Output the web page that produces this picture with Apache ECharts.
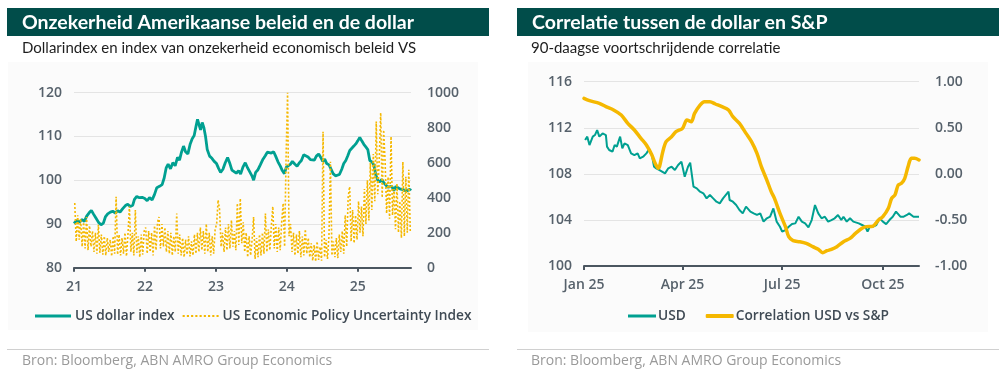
<!DOCTYPE html>
<html><head><meta charset="utf-8">
<script src="https://cdn.jsdelivr.net/npm/echarts@6/dist/echarts.min.js"></script>
<style>html,body{margin:0;padding:0;background:#fff}#c{width:1004px;height:380px}</style>
</head><body><div id="c"></div>
<script>
// ---------- Left chart data ----------
const leftTickYears = [2021, 2022, 2023, 2024, 2025];
const leftTickLabels = ['21', '22', '23', '24', '25'];

const dxyDates = [2021.000,2021.038,2021.075,2021.113,2021.146,2021.179,2021.216,2021.245,2021.273,2021.311,2021.348,2021.381,2021.414,2021.442,2021.475,2021.513,2021.546,2021.584,2021.616,2021.649,2021.687,2021.725,2021.758,2021.791,2021.828,2021.852,2021.885,2021.922,2021.960,2021.998,
2022.031,2022.064,2022.101,2022.134,2022.167,2022.205,2022.242,2022.271,2022.299,2022.327,2022.360,2022.393,2022.426,2022.459,2022.487,2022.515,2022.544,2022.572,2022.605,2022.638,2022.666,2022.694,2022.722,2022.741,2022.760,2022.784,2022.807,2022.831,2022.854,2022.878,2022.911,2022.944,2022.976,
2023.009,2023.038,2023.066,2023.099,2023.132,2023.165,2023.193,2023.226,2023.254,2023.287,2023.320,2023.348,2023.381,2023.414,2023.447,2023.475,2023.508,2023.532,2023.560,2023.593,2023.626,2023.664,2023.696,2023.725,2023.753,2023.781,2023.814,2023.842,2023.875,2023.908,2023.936,2023.965,2023.993,
2024.021,2024.049,2024.078,2024.111,2024.144,2024.172,2024.205,2024.238,2024.266,2024.299,2024.332,2024.360,2024.388,2024.416,2024.449,2024.478,2024.506,2024.534,2024.562,2024.595,2024.624,2024.652,2024.685,2024.713,2024.741,2024.774,2024.802,2024.831,2024.859,2024.887,2024.915,2024.944,2024.972,
2025.000,2025.028,2025.056,2025.085,2025.113,2025.141,2025.169,2025.198,2025.226,2025.254,2025.282,2025.311,2025.339,2025.367,2025.395,2025.424,2025.452,2025.480,2025.508,2025.537,2025.565,2025.593,2025.621,2025.649,2025.678,2025.706,2025.734,2025.748];
const dxyValues = [90.1,90.8,90.4,91.0,90.6,91.8,92.6,93.1,92.3,91.3,90.3,89.8,90.2,91.6,92.3,92.7,92.9,92.5,93.0,92.7,93.5,94.2,94.5,94.0,94.3,95.6,96.3,96.0,96.1,95.8,
95.3,96.0,95.5,96.7,98.3,98.6,99.0,100.5,102.8,103.7,102.6,104.0,103.3,105.2,104.6,106.4,107.8,106.5,106.0,108.3,109.5,110.2,112.5,113.9,112.8,111.5,113.2,112.0,110.0,107.0,105.5,105.0,104.3,
103.8,102.7,101.8,102.5,104.0,105.2,104.0,102.3,102.0,101.6,102.2,101.4,103.0,104.0,102.8,102.5,101.0,100.0,101.8,102.4,103.5,104.8,105.6,106.4,106.8,106.2,106.5,105.5,104.2,103.2,102.2,101.5,103.0,
102.6,103.6,104.3,103.7,103.2,103.9,104.5,105.8,106.0,105.3,104.7,105.0,104.6,105.5,106.0,105.2,104.3,104.8,103.8,103.5,102.5,101.5,101.0,100.8,101.3,102.5,103.8,104.5,105.6,106.8,106.5,107.8,108.3,
109.0,109.8,109.0,108.2,107.6,107.0,104.5,104.2,103.5,101.2,100.0,99.6,100.2,99.4,99.0,98.4,98.2,98.6,97.6,98.6,99.0,98.0,98.4,97.8,97.5,97.3,97.9,97.6];

// Economic Policy Uncertainty index, 4 readings per month
const epu2021 = [370,150,300,160, 280,120,260,110, 290,100,240,120, 210,90,200,80, 245,85,190,75, 180,70,170,90,
                 160,65,180,80, 405,75,190,70, 170,80,200,65, 190,350,90,200, 70,330,85,180, 60,190,75,210];
const epu2022 = [230,80,210,90, 200,70,240,100, 260,290,110,250, 120,230,90,210, 80,200,70,180, 90,310,80,190,
                 70,170,60,160, 75,180,65,150, 70,190,80,200, 90,230,100,210, 80,250,90,200, 70,180,80,220];
const epu2023 = [250,387,330,120, 200,90,230,100, 250,110,272,120, 210,100,368,130, 396,140,260,90, 200,60,180,70,
                 160,290,50,170, 60,190,70,200, 80,310,90,220, 100,240,350,110, 250,90,230,100, 260,368,120,640];
const epu2024 = [1000,180,250,90, 200,70,190,80, 210,60,180,70, 220,80,170,60, 140,40,130,35, 150,45,120,40,
                 777,60,160,50, 180,605,70,150, 60,170,55,190, 90,210,80,300, 120,405,463,150, 330,140,300,160];
const epu2025 = [380,200,350,180, 450,250,500,270, 600,330,650,380, 835,420,620,885, 400,787,600,310, 520,280,750,300,
                 450,220,480,200, 380,170,605,180, 520,200,560,210];
const epuYears = [2021, 2022, 2023, 2024, 2025];
const epuByYear = [epu2021, epu2022, epu2023, epu2024, epu2025];

// ---------- Right chart data (x = days since 1 Jan 2025) ----------
const rightTickDays = [0, 90, 181, 273];
const rightTickLabels = ['Jan 25', 'Apr 25', 'Jul 25', 'Oct 25'];

const usdDays = [1,3,5,8,10,12,14,17,20,21,23,26,28,30,33,35,37,40,43,46,49,51,54,57,59,62,64,66,69,74,77,80,83,86,89,92,95,97,100,103,106,109,112,115,118,121,124,127,132,133,136,139,142,145,148,152,155,158,161,164,167,170,173,176,179,181,184,187,190,193,196,199,202,205,208,211,214,217,220,223,226,229,232,235,237,240,243,246,251,254,257,259,261,264,267,270,273,276,279,282,285,286,289,292,295,297,301,306];
const usdValues = [110.94,111.23,110.50,111.23,111.37,111.80,111.23,111.51,111.37,110.36,110.07,109.92,110.50,110.36,111.23,110.21,110.65,110.50,109.78,109.63,109.78,109.34,109.49,109.78,110.07,109.63,108.62,108.48,108.33,108.04,108.48,108.62,108.33,108.77,109.06,107.75,108.62,108.97,106.89,106.74,106.45,106.31,105.87,106.16,105.87,105.58,105.44,105.87,106.45,105.73,105.58,105.29,104.86,104.57,105.15,104.72,104.57,104.43,104.57,103.85,104.14,104.28,105.00,103.85,103.41,102.98,103.12,103.41,103.64,103.70,104.28,103.85,103.70,103.36,103.99,105.29,104.57,104.14,104.28,103.85,103.99,104.14,104.43,103.99,104.28,103.85,104.14,103.85,103.70,103.56,103.41,102.98,103.41,103.41,103.56,104.14,103.85,103.64,103.99,104.28,104.72,104.86,104.28,104.28,104.43,104.57,104.28,104.28];

const corrDays = [0,5,14,20,27,34,40,46,52,57,62,65,68,69,72,75,80,84,90,94,98,101,106,110,115,120,126,132,136,142,148,153,158,162,167,171,174,179,184,187,191,197,203,209,214,218,222,226,231,237,243,248,254,258,264,269,273,278,281,284,287,290,293,296,299,302,306];
const corrValues = [0.819,0.794,0.765,0.729,0.693,0.638,0.548,0.476,0.385,0.313,0.204,0.114,0.060,0.078,0.241,0.349,0.403,0.458,0.494,0.584,0.566,0.656,0.747,0.783,0.783,0.758,0.729,0.693,0.620,0.548,0.439,0.349,0.222,0.078,-0.067,-0.193,-0.266,-0.429,-0.573,-0.682,-0.725,-0.736,-0.754,-0.790,-0.819,-0.855,-0.834,-0.819,-0.790,-0.736,-0.700,-0.646,-0.591,-0.573,-0.566,-0.501,-0.465,-0.374,-0.266,-0.230,-0.121,-0.103,-0.049,0.078,0.168,0.168,0.150];

// ---------- Build ----------
const TEAL = '#00a091', GOLD = '#f5b800', AXIS = '#4b5660', LBL = '#56616b';
const FONT = '"Open Sans", "Noto Sans", sans-serif';

const dxyData = dxyDates.map((d, i) => [d, dxyValues[i]]);
const epuData = [];
epuByYear.forEach((arr, k) => arr.forEach((v, i) => epuData.push([epuYears[k] + (i + 0.5) / 48, v])));
const usdData = usdDays.map((d, i) => [d, usdValues[i]]);
const corrData = corrDays.map((d, i) => [d, corrValues[i]]);

const labelStyle = { color: LBL, fontFamily: FONT, fontWeight: 600, fontSize: 14 };

function xAxisCfg(grid, min, max, ticks, labels) {
  return {
    gridIndex: grid, type: 'value', min: min, max: max,
    axisLine: { show: true, onZero: false, lineStyle: { color: AXIS, width: 2 } },
    axisTick: { show: true, customValues: ticks, length: 4, lineStyle: { color: AXIS, width: 2 } },
    axisLabel: Object.assign({ customValues: ticks, margin: 12,
      formatter: v => { const i = ticks.findIndex(t => Math.abs(t - v) < 1e-6); return i >= 0 ? labels[i] : ''; } }, labelStyle),
    splitLine: { show: false }
  };
}
function yAxisCfg(grid, pos, min, max, interval, split, fmt) {
  return {
    gridIndex: grid, type: 'value', position: pos, min: min, max: max, interval: interval,
    axisLine: { show: false }, axisTick: { show: false },
    axisLabel: Object.assign({ margin: pos === 'left' ? 12 : 16, formatter: fmt || (v => String(v)) }, labelStyle),
    splitLine: { show: split, lineStyle: { color: '#e4e4e4', width: 1 } }
  };
}

// legend icons (dotted bar for the EPU series)
let dotPath = 'path://';
for (let x = 0; x < 36; x += 4) dotPath += 'M' + x + ',0h2v2h-2z';
const legendText = { color: '#3f4a54', fontFamily: FONT, fontWeight: 600, fontSize: 13.7 };

const chart = echarts.init(document.getElementById('c'), null, { renderer: 'canvas' });
chart.setOption({
  animation: false,
  backgroundColor: '#ffffff',
  graphic: [
    { type: 'rect', shape: { x: 8, y: 62, width: 470, height: 268 }, style: { fill: '#fbfbfb' }, z: -10 },
    { type: 'rect', shape: { x: 528, y: 62, width: 460, height: 270 }, style: { fill: '#fbfbfb' }, z: -10 },
    { type: 'rect', shape: { x: 7, y: 8, width: 482, height: 28 }, style: { fill: '#014d4a' } },
    { type: 'rect', shape: { x: 517, y: 8, width: 482, height: 28 }, style: { fill: '#014d4a' } },
    { type: 'text', x: 22, y: 22.5, style: { text: 'Onzekerheid Amerikaanse beleid en de dollar', fill: '#ffffff', font: 'bold 19.5px Lato, "Open Sans", sans-serif', textVerticalAlign: 'middle' } },
    { type: 'text', x: 532, y: 22.5, style: { text: 'Correlatie tussen de dollar en S&P', fill: '#ffffff', font: 'bold 19.5px Lato, "Open Sans", sans-serif', textVerticalAlign: 'middle' } },
    { type: 'text', x: 22, y: 48, style: { text: 'Dollarindex en index van onzekerheid economisch beleid VS', fill: '#1e1e1e', font: '15px Lato, "Open Sans", sans-serif', textVerticalAlign: 'middle' } },
    { type: 'text', x: 531, y: 48, style: { text: '90-daagse voortschrijdende correlatie', fill: '#1e1e1e', font: '15px Lato, "Open Sans", sans-serif', textVerticalAlign: 'middle' } },
    { type: 'line', shape: { x1: 7, y1: 349.5, x2: 489, y2: 349.5 }, style: { stroke: '#d0d0d0', lineWidth: 1 } },
    { type: 'line', shape: { x1: 517, y1: 349.5, x2: 999, y2: 349.5 }, style: { stroke: '#d0d0d0', lineWidth: 1 } },
    { type: 'text', x: 22, y: 361, style: { text: 'Bron: Bloomberg, ABN AMRO Group Economics', fill: '#9a9a9a', font: '14px "Open Sans", sans-serif', textVerticalAlign: 'middle' } },
    { type: 'text', x: 531, y: 361, style: { text: 'Bron: Bloomberg, ABN AMRO Group Economics', fill: '#9a9a9a', font: '14px "Open Sans", sans-serif', textVerticalAlign: 'middle' } }
  ],
  grid: [
    { left: 74, top: 92.7, width: 337, height: 175 },
    { left: 584, top: 81.7, width: 335, height: 184.3 }
  ],
  xAxis: [
    xAxisCfg(0, 2021, 2025.75, leftTickYears, leftTickLabels),
    xAxisCfg(1, 0, 306, rightTickDays, rightTickLabels)
  ],
  yAxis: [
    yAxisCfg(0, 'left', 80, 120, 10, true),
    yAxisCfg(0, 'right', 0, 1000, 200, false),
    yAxisCfg(1, 'left', 100, 116, 4, true),
    yAxisCfg(1, 'right', -1, 1, 0.5, false, v => v.toFixed(2))
  ],
  legend: [
    { data: [ { name: 'US dollar index', icon: 'path://M0,0h36v3h-36z' },
              { name: 'US Economic Policy Uncertainty Index', icon: dotPath } ],
      left: 30, top: 304, itemWidth: 36, itemHeight: 3, itemGap: 8, selectedMode: false,
      textStyle: Object.assign({ padding: [0, 0, 0, -1] }, legendText) },
    { data: [ { name: 'USD', icon: 'path://M0,0h28v3h-28z' },
              { name: 'Correlation USD vs S&P', icon: 'roundRect' } ],
      left: 623, top: 304, itemWidth: 28, itemHeight: 4, itemGap: 20, selectedMode: false,
      textStyle: Object.assign({ padding: [0, 0, 0, -3] }, legendText) }
  ],
  series: [
    { name: 'US dollar index', type: 'line', xAxisIndex: 0, yAxisIndex: 0, data: dxyData, symbol: 'none', showSymbol: false,
      lineStyle: { color: TEAL, width: 2.8 }, itemStyle: { color: TEAL } },
    { name: 'US Economic Policy Uncertainty Index', type: 'line', xAxisIndex: 0, yAxisIndex: 1, data: epuData, symbol: 'none', showSymbol: false,
      lineStyle: { color: GOLD, width: 1.6, type: [2, 2] }, itemStyle: { color: GOLD } },
    { name: 'USD', type: 'line', xAxisIndex: 1, yAxisIndex: 2, data: usdData, symbol: 'none', showSymbol: false,
      lineStyle: { color: TEAL, width: 2 }, itemStyle: { color: TEAL } },
    { name: 'Correlation USD vs S&P', type: 'line', xAxisIndex: 1, yAxisIndex: 3, data: corrData, symbol: 'none', showSymbol: false, smooth: 0.3,
      lineStyle: { color: GOLD, width: 3.5, cap: 'round' }, itemStyle: { color: GOLD } }
  ]
});
</script></body></html>
